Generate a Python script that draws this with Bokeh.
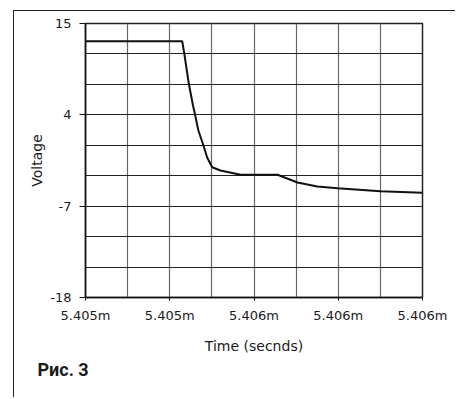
from bokeh.plotting import figure
from bokeh.models import FixedTicker, Title
from bokeh.embed import file_html
from bokeh.resources import INLINE

# time offset from 5.405 ms, in ns
time_ns = [0, 287, 293, 306.5, 319, 325, 335, 349, 361, 376, 400.6, 460, 570, 629, 688, 748, 875, 1000]
voltage = [12.87, 12.87, 11.39, 7.77, 5.12, 4.04, 2.11, 0.43, -1.14, -2.31, -2.70, -3.22, -3.22,
           -4.15, -4.63, -4.84, -5.20, -5.39]

x_ticks = [0, 250, 500, 750, 1000]
x_minor = [125, 375, 625, 875]
x_labels = ["5.405m", "5.405m", "5.406m", "5.406m", "5.406m"]
y_ticks = [-18, -7, 4, 15]
y_minor = [-14.333, -10.667, -3.333, 0.333, 7.667, 11.333]
y_labels = ["-18", "-7", "4", "15"]

FONT = "DejaVu Sans"
TXT = "#1a1a1a"

p = figure(width=442, height=387, output_backend="svg", toolbar_location=None,
           x_range=(0, 1000), y_range=(-18, 15),
           min_border_left=71, min_border_top=12, min_border_right=34, min_border_bottom=101)
p.margin = (10, 0, 0, 13)
p.styles = {"border-top": "1px solid #222", "border-left": "1px solid #222"}

p.line(time_ns, voltage, line_color="#111111", line_width=2)

p.xaxis.ticker = FixedTicker(ticks=x_ticks, minor_ticks=x_minor)
p.yaxis.ticker = FixedTicker(ticks=y_ticks, minor_ticks=y_minor)
p.xaxis.major_label_overrides = {t: l for t, l in zip(x_ticks, x_labels)}
p.yaxis.major_label_overrides = {t: l for t, l in zip(y_ticks, y_labels)}

for ax in (p.xaxis, p.yaxis):
    ax.axis_line_color = "#111111"
    ax.axis_line_width = 1.5
    ax.major_tick_line_color = "#111111"
    ax.major_tick_in = 0
    ax.minor_tick_line_color = None
    ax.major_label_text_font = FONT
    ax.major_label_text_font_size = "13px"
    ax.major_label_text_color = TXT
    ax.axis_label_text_font = FONT
    ax.axis_label_text_font_size = "14px"
    ax.axis_label_text_font_style = "normal"
    ax.axis_label_text_color = TXT

p.xaxis.major_tick_out = 3
p.yaxis.major_tick_out = 6
p.xaxis.major_label_standoff = 6
p.yaxis.major_label_standoff = 8
p.xaxis.axis_label = "Time (secnds)"
p.yaxis.axis_label = "Voltage"
p.xaxis.axis_label_standoff = 12
p.yaxis.axis_label_standoff = 2

p.xgrid.grid_line_color = "#666666"
p.xgrid.grid_line_width = 1.2
p.xgrid.minor_grid_line_color = "#666666"
p.xgrid.minor_grid_line_width = 1.2
p.ygrid.grid_line_color = "#222222"
p.ygrid.grid_line_width = 1
p.ygrid.minor_grid_line_color = "#222222"
p.ygrid.minor_grid_line_width = 1

p.outline_line_color = "#222222"
p.outline_line_width = 1.5

cap = Title(text="Рис. 3", align="left", text_font="Roboto", text_font_size="18px",
            text_font_style="bold", text_color=TXT, offset=-48, standoff=1)
p.add_layout(cap, "below")

open("out.html", "w").write(file_html(p, INLINE))
